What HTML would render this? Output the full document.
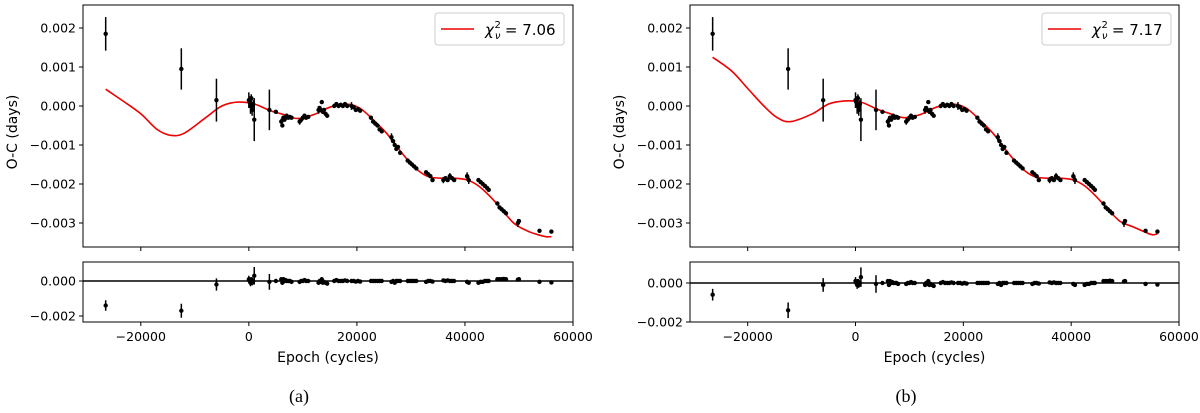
<!DOCTYPE html>
<html><head><meta charset="utf-8">
<style>
html,body{margin:0;padding:0;background:#fff;}
svg{display:block;font-family:"DejaVu Sans","Liberation Sans",sans-serif;}
</style></head>
<body>
<svg id="fig" width="1200" height="413" viewBox="0 0 1200 413" xmlns="http://www.w3.org/2000/svg"></svg>
<script>
// ---- data (shared observed O-C) ----
const epochs = [-26500,-12500,-6000,0,150,300,450,600,800,1000,3800,5000,
 6000,6200,6400,6600,6800,7000,7300,7600,7900,9400,9700,10000,10300,10600,11000,
 12900,13100,13300,13500,13700,13900,14200,14500,15800,16200,16600,17000,17400,17800,18200,
 19000,19400,19800,20200,20600,22600,23000,23400,23800,24200,24600,26400,26700,27000,27300,27600,28000,
 29400,29800,30200,30600,31000,32800,33200,33600,34000,36000,36400,36800,37200,37600,38000,
 40400,40700,42500,42900,43300,43700,44100,44400,46000,46400,46800,47200,47600,49800,50000,53800,56000];
const ocObs = [0.00185,0.00095,0.00015,0.00015,0.0001,0.0,0.0002,-0.0001,0.00005,-0.00035,-0.0001,-0.00015,
 -0.0004,-0.0005,-0.0003,-0.00035,-0.0003,-0.00025,-0.0003,-0.00028,-0.0003,-0.0004,-0.00035,-0.0003,-0.00025,-0.0003,-0.00028,
 -0.0001,-0.00005,-0.0001,0.0001,-0.00015,-0.0001,-0.0002,-0.00025,0.0,0.00005,0.0,0.00003,0.0,0.00005,0.0,
 0.0,-0.00003,-0.0001,-0.00008,-0.00012,-0.0003,-0.0004,-0.00045,-0.0005,-0.0006,-0.00065,-0.0008,-0.0009,-0.001,-0.0011,-0.00105,-0.0012,
 -0.0014,-0.00145,-0.0015,-0.00155,-0.0016,-0.0017,-0.00175,-0.0018,-0.0019,-0.0019,-0.00185,-0.0019,-0.0018,-0.00185,-0.0019,
 -0.0018,-0.0019,-0.0019,-0.00195,-0.002,-0.00205,-0.0021,-0.00215,-0.0025,-0.0026,-0.00265,-0.0027,-0.00275,-0.0030,-0.00295,-0.0032,-0.00322];
const ocErr = [0.00043,0.00053,0.00055,0.0002,0.00015,0.0002,0.0001,0.00015,0.0001,0.00055,0.00052,0.00003,
 0.00008,0.00005,0.00005,0.00005,0.00005,0.00005,0.00005,0.00005,0.00005,0.00008,0.00005,0.00005,0.00005,0.00005,0.00005,
 0.0001,0.00005,0.00005,0.00005,0.00005,0.00005,0.00005,0.00005,0.00005,0.00005,0.00005,0.00005,0.00005,0.00005,0.00005,
 0.0001,0.00005,0.00005,0.00005,0.00005,0.00005,0.00005,0.00005,0.00005,0.00005,0.00005,0.0001,0.00005,0.00005,0.00005,0.00005,0.00005,
 0.00005,0.00005,0.00005,0.00005,0.00005,0.00005,0.00005,0.00005,0.00005,0.00008,0.00005,0.00005,0.00008,0.00005,0.00005,
 0.0001,0.0001,0.00005,0.00005,0.00005,0.00005,0.00005,0.00005,0.00005,0.00005,0.00005,0.00005,0.00005,0.0001,0.00005,0.00003,0.00003];
const resA = [-0.0014,-0.0017,-0.0002,0.0001,0.0,-0.0001,0.0001,-0.0001,0.0,0.0003,-0.00005,0.0,
 0.0001,-0.0001,0.0001,0.0,0.00005,0.0,0.0,0.0,-0.00005,-0.00005,0.0,0.0,0.00005,0.0,0.0,
 -0.0001,0.0,-0.00005,0.0001,-0.0001,-0.00005,-0.0001,-0.00015,0.0,0.00005,0.0,0.0,0.0,0.00003,0.0,
 0.0,0.0,-0.00003,0.0,-0.00003,0.0,0.0,0.0,0.0,0.0,0.0,-0.00005,0.0,-0.0001,0.0,0.0,0.0,
 0.0,0.0,0.0,0.0,0.0,-0.00005,0.0,0.0,-0.00003,0.00003,0.0,0.00003,0.0,0.0,0.0,
 -0.00005,-0.0001,-0.0001,-0.00005,-0.00005,0.0,0.0,0.0,0.0001,0.0001,0.0001,0.00012,0.0001,0.00008,0.0001,-0.00005,-0.00008];
const resB = [-0.0006,-0.0014,-0.0001,0.0001,0.0,-0.0001,0.0001,-0.0001,0.0,0.0003,-0.00005,0.0,
 0.0001,-0.0001,0.0001,0.0,0.00005,0.0,0.0,0.0,-0.00005,-0.00005,0.0,0.0,0.00005,0.0,0.0,
 -0.0001,0.0,-0.00005,0.0001,-0.0001,-0.00005,-0.0001,-0.00015,0.0,0.00005,0.0,0.0,0.0,0.00003,0.0,
 0.0,0.0,-0.00003,0.0,-0.00003,0.0,0.0,0.0,0.0,0.0,0.0,-0.00005,0.0,-0.0001,0.0,0.0,0.0,
 0.0,0.0,0.0,0.0,0.0,-0.00005,0.0,0.0,-0.00003,0.00003,0.0,0.00003,0.0,0.0,0.0,
 -0.00005,-0.0001,-0.0001,-0.00005,-0.00005,0.0,0.0,0.0,0.0001,0.0001,0.0001,0.00012,0.0001,0.00008,0.0001,-0.00005,-0.00008];
const resErr = [0.0003,0.0004,0.00035,0.0002,0.00015,0.0002,0.0001,0.00015,0.0001,0.0005,0.00045];
// ---- model curves ----
const modelX = [-26500,-23000,-20000,-17000,-14500,-12000,-8000,-5000,-2000,1000,4000,6500,9000,12000,15000,18000,20500,23000,25500,28000,30500,33000,35500,38000,40500,42500,44500,46500,49000,51500,53500,55000,56000];
const modelA = [0.00043,0.0001,-0.0002,-0.0006,-0.00075,-0.0007,-0.0003,0.0,0.0001,0.00005,-0.00012,-0.00022,-0.00032,-0.00022,-0.00003,0.00005,-0.00005,-0.00035,-0.0007,-0.00115,-0.00155,-0.0018,-0.00185,-0.00185,-0.0019,-0.00205,-0.0023,-0.0026,-0.003,-0.0032,-0.0033,-0.00335,-0.00335];
const modelB = [0.00125,0.0009,0.00045,0.0,-0.0003,-0.0004,-0.0002,0.00005,0.00013,0.0001,-0.00008,-0.0002,-0.0003,-0.00022,-0.00003,0.00005,-0.00005,-0.00035,-0.0007,-0.00115,-0.00155,-0.0018,-0.00185,-0.00185,-0.0019,-0.00205,-0.0023,-0.0026,-0.00295,-0.0031,-0.00322,-0.0033,-0.00328];
const xTicks = [-20000,0,20000,40000,60000];
const xTickLabels = ["\u221220000","0","20000","40000","60000"];
const yTicks = [0.002,0.001,0,-0.001,-0.002,-0.003];
const yTickLabels = ["0.002","0.001","0.000","\u22120.001","\u22120.002","\u22120.003"];
const rTicks = [0,-0.002];
const rTickLabels = ["0.000","\u22120.002"];

const NS="http://www.w3.org/2000/svg";
const fig=document.getElementById('fig');
function mk(tag,attrs,parent){const e=document.createElementNS(NS,tag);for(const k in attrs)e.setAttribute(k,attrs[k]);(parent||fig).appendChild(e);return e;}
function smoothPath(pts){
  let d='M'+pts[0][0].toFixed(1)+','+pts[0][1].toFixed(1);
  for(let i=0;i<pts.length-1;i++){
    const p0=pts[Math.max(0,i-1)],p1=pts[i],p2=pts[i+1],p3=pts[Math.min(pts.length-1,i+2)];
    const c1x=p1[0]+(p2[0]-p0[0])/6,c1y=p1[1]+(p2[1]-p0[1])/6;
    const c2x=p2[0]-(p3[0]-p1[0])/6,c2y=p2[1]-(p3[1]-p1[1])/6;
    d+=`C${c1x.toFixed(1)},${c1y.toFixed(1)} ${c2x.toFixed(1)},${c2y.toFixed(1)} ${p2[0].toFixed(1)},${p2[1].toFixed(1)}`;
  }
  return d;
}

function panel(cfg){
  const g=mk('g',{});
  
  
  const L=cfg.left,R=cfg.right;
  const xS=v=>L+(v-(-30700))/(60000-(-30700))*(R-L);
  const yS=v=>cfg.y0-v*cfg.k;
  const rS=v=>cfg.r0-v*cfg.rk;
  const pts=modelX.map((x,i)=>[xS(x),yS(cfg.model[i])]);
  const curve=mk('path',{d:smoothPath(pts),fill:'none',stroke:'#e00','stroke-width':1.6,'stroke-linejoin':'round'},g);
  
  
  epochs.forEach((x,i)=>{
    const px=xS(x),py=yS(ocObs[i]),e=ocErr[i]*cfg.k;
    const eb=mk('line',{x1:px,x2:px,y1:py-e,y2:py+e,stroke:'#000','stroke-width':1.5},g);
    
    
    const c=mk('circle',{cx:px,cy:py,r:2.2,fill:'#000'},g);
    
    
    const ry=rS(cfg.res[i]),re=(resErr[i]||ocErr[i])*cfg.rk;
    const reb=mk('line',{x1:px,x2:px,y1:ry-re,y2:ry+re,stroke:'#000','stroke-width':1.5},g);
    
    
    const rc=mk('circle',{cx:px,cy:ry,r:2.2,fill:'#000'},g);
    
    
  });
  const zl=mk('line',{x1:L,x2:R,y1:rS(0),y2:rS(0),stroke:'#000','stroke-width':1.5},g);
  
  
  const f1=mk('rect',{x:L,y:cfg.top,width:R-L,height:cfg.bot-cfg.top,fill:'none',stroke:'#000','stroke-width':1},g);
  
  
  const f2=mk('rect',{x:L,y:cfg.rtop,width:R-L,height:cfg.rbot-cfg.rtop,fill:'none',stroke:'#000','stroke-width':1},g);
  
  
  xTicks.forEach((t,i)=>{
    const px=xS(t);
    mk('line',{x1:px,x2:px,y1:cfg.bot,y2:cfg.bot+4,stroke:'#000'},g);
    mk('line',{x1:px,x2:px,y1:cfg.rbot,y2:cfg.rbot+4,stroke:'#000'},g);
    const tx=mk('text',{x:px,y:cfg.rbot+19,'text-anchor':'middle','font-size':12.5},g);
    tx.textContent=xTickLabels[i];
    
    
  });
  yTicks.forEach((t,i)=>{
    const py=yS(t);
    mk('line',{x1:L-4,x2:L,y1:py,y2:py,stroke:'#000'},g);
    const tx=mk('text',{x:L-7,y:py+4.5,'text-anchor':'end','font-size':12.5},g);
    tx.textContent=yTickLabels[i];
    
    
  });
  rTicks.forEach((t,i)=>{
    const py=rS(t);
    mk('line',{x1:L-4,x2:L,y1:py,y2:py,stroke:'#000'},g);
    const tx=mk('text',{x:L-7,y:py+4.5,'text-anchor':'end','font-size':12.5},g);
    tx.textContent=rTickLabels[i];
    
    
  });
  const xt=mk('text',{x:(L+R)/2,y:cfg.rbot+40,'text-anchor':'middle','font-size':14},g);
  xt.textContent='Epoch (cycles)';
  
  
  const yt=mk('text',{x:0,y:0,'text-anchor':'middle','font-size':14,transform:`translate(${L-66},${(cfg.top+cfg.bot)/2+6}) rotate(-90)`},g);
  yt.textContent='O-C (days)';
  
  
  const lg=mk('g',{},g);
  
  
  mk('rect',{x:cfg.legX,y:13,width:129,height:32,rx:3,fill:'#fff',stroke:'#ccc'},lg);
  mk('line',{x1:cfg.legX+6,x2:cfg.legX+39,y1:29,y2:29,stroke:'#e00','stroke-width':1.6},lg);
  const lt=mk('text',{x:cfg.legX+50,y:35,'font-size':15},lg);
  lt.innerHTML='<tspan font-style="italic">χ</tspan><tspan font-style="italic" font-size="10" dx="1" dy="4">ν</tspan><tspan font-size="10" dx="-6" dy="-11">2</tspan><tspan dy="7" dx="4">= '+cfg.chi+'</tspan>';
  
  
  const cap=mk('text',{x:cfg.capX,y:402,'text-anchor':'middle','font-size':18,'font-family':'"Liberation Serif",serif'},g);
  cap.textContent=cfg.cap;
  
  
}
panel({name:'panel-a',left:83,right:573,top:5,bot:247,y0:106,k:39000,rtop:262,rbot:322,r0:281,rk:17500,model:modelA,res:resA,legX:435,chi:'7.06',cap:'(a)',capX:299});
panel({name:'panel-b',left:690,right:1179,top:5,bot:247,y0:106,k:39000,rtop:262,rbot:322,r0:283,rk:19500,model:modelB,res:resB,legX:1042,chi:'7.17',cap:'(b)',capX:906});
</script>
</body></html>
